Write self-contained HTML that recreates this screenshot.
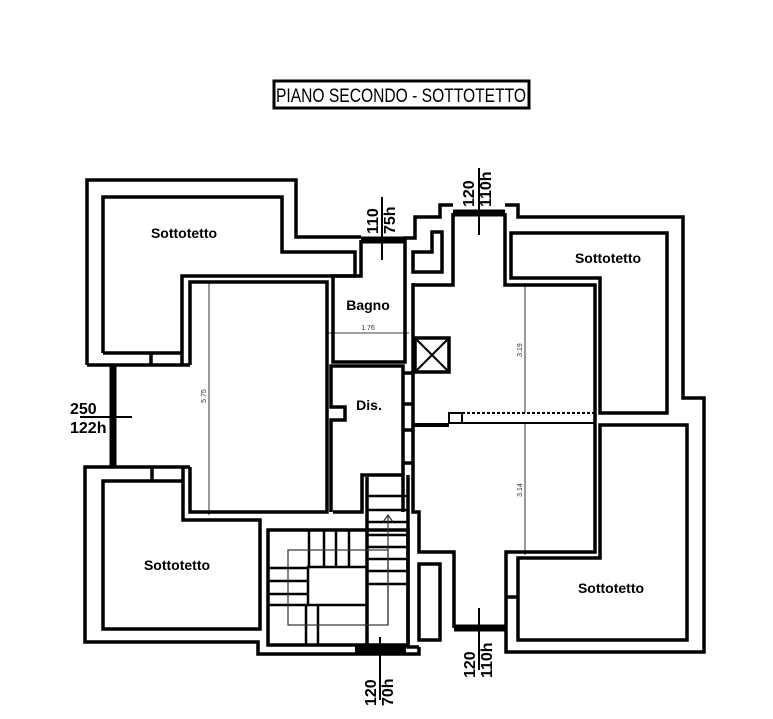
<!DOCTYPE html>
<html><head><meta charset="utf-8"><style>html,body{margin:0;padding:0;background:#fff}svg{display:block}</style></head>
<body>
<svg width="773" height="719" viewBox="0 0 773 719" xmlns="http://www.w3.org/2000/svg" font-family="Liberation Sans, sans-serif">
<rect x="274" y="81" width="255" height="27" fill="none" stroke="#000" stroke-width="3"/>
<text x="276" y="102" font-size="19" textLength="250" lengthAdjust="spacingAndGlyphs">PIANO SECONDO - SOTTOTETTO</text>
<g fill="none" stroke="#000" stroke-width="3.5" stroke-linejoin="miter">
<!-- top-left sottotetto -->
<polyline points="87,365 87,180 296,180 296,237 361,237"/>
<polyline points="103,353 103,197 282,197 282,252 355,252 355,276 182,276 182,365"/>
<polyline points="103,353 182,353"/>
<polyline points="87,365 190,365"/>
<line x1="151" y1="353" x2="151" y2="365"/>
<!-- big left room -->
<polyline points="190,365 190,282 327,282 327,512 190,512 190,467"/>
<!-- bottom-left sottotetto -->
<polyline points="190,467 85,467 85,642 258,642 258,654 419,654 419,647"/>
<polyline points="183,481 103,481 103,629 260,629 260,520 183,520 183,467"/>
<line x1="152" y1="467" x2="152" y2="481"/>
<!-- bagno -->
<polyline points="361,240 361,276 333,276 333,362 405,362 405,240"/>
<!-- dis -->
<polyline points="331,512 331,420 345,420 345,407 331,407 331,366 403,366 403,475"/>
<polyline points="333,512 362,512 362,475 403,475 403,512"/>
<!-- wall between dis and corridor -->
<polyline points="413,283 413,512 419,512 419,552 454,552 454,628"/>
<line x1="403" y1="373" x2="413" y2="373"/><line x1="403" y1="404" x2="413" y2="404"/><line x1="403" y1="430" x2="413" y2="430"/><line x1="403" y1="463" x2="413" y2="463"/>
<polyline points="408,475 408,647 419,647"/>
<!-- stairs -->
<rect x="268" y="530" width="140" height="115"/>
<line x1="367" y1="477" x2="367" y2="645"/>
<!-- corridor top -->
<polyline points="405,240 405,238 415,238 415,217 440,217 440,205 453,205"/>
<polyline points="505,205 518,205 518,217 683,217 683,398 704,398 704,652 506,652 506,628"/>
<polyline points="453,213 453,285 413,285"/>
<polyline points="505,213 505,285 595,285 595,552 506,552 506,628"/>
<polygon points="442,232 442,272 413,272 413,252 432,252 432,232"/>
<!-- right top sottotetto -->
<polygon points="511,233 667,233 667,413 600,413 600,278 511,278"/>
<!-- lift -->
<rect x="415" y="338" width="34" height="34"/>
<!-- BR -->
<polygon points="600,425 687,425 687,640 518,640 518,558 600,558"/>
<line x1="506" y1="597" x2="518" y2="597"/>
<rect x="419" y="564" width="21" height="76"/>
</g>
<g stroke="#000" stroke-width="2">
<line x1="415" y1="338" x2="449" y2="372"/><line x1="449" y1="338" x2="415" y2="372"/>
<rect x="449" y="413" width="13" height="10" fill="none"/>
<line x1="462" y1="413" x2="595" y2="413" stroke-dasharray="3,2"/>
<line x1="462" y1="423" x2="595" y2="423"/>
<line x1="413" y1="425" x2="449" y2="425" stroke-width="4"/>
</g>
<!-- stairs details -->
<g stroke="#000" stroke-width="2.5" fill="none">
<line x1="367" y1="496" x2="408" y2="496"/><line x1="367" y1="510" x2="408" y2="510"/>
<line x1="367" y1="522" x2="408" y2="522"/><line x1="367" y1="535" x2="408" y2="535"/>
<line x1="367" y1="547" x2="408" y2="547"/><line x1="367" y1="559" x2="408" y2="559"/>
<line x1="367" y1="571" x2="408" y2="571"/><line x1="367" y1="584" x2="408" y2="584"/>
<line x1="309" y1="530" x2="309" y2="567"/><line x1="324" y1="530" x2="324" y2="567"/>
<line x1="336" y1="530" x2="336" y2="567"/><line x1="349" y1="530" x2="349" y2="567"/>
<line x1="268" y1="568" x2="308" y2="568"/><line x1="268" y1="581" x2="308" y2="581"/>
<line x1="268" y1="594" x2="308" y2="594"/><line x1="268" y1="605" x2="308" y2="605"/>
<line x1="306" y1="605" x2="306" y2="645"/><line x1="318" y1="605" x2="318" y2="645"/>
<rect x="308" y="567" width="59" height="38"/>
</g>
<g stroke="#333" stroke-width="1.2" fill="none">
<rect x="288" y="550" width="100" height="75"/>
<line x1="388" y1="625" x2="388" y2="515"/>
<polyline points="383,522 388,515 393,522"/>
</g>
<!-- windows -->
<g stroke="#000">
<line x1="113" y1="365" x2="113" y2="467" stroke-width="7"/>
<line x1="80" y1="417" x2="132" y2="417" stroke-width="2"/>
<line x1="361" y1="240" x2="405" y2="240" stroke-width="7"/>
<line x1="382" y1="197" x2="382" y2="260" stroke-width="2"/>
<line x1="453" y1="213" x2="505" y2="213" stroke-width="7"/>
<line x1="479" y1="168" x2="479" y2="235" stroke-width="2"/>
<line x1="355" y1="650" x2="406" y2="650" stroke-width="7"/>
<line x1="380" y1="637" x2="380" y2="700" stroke-width="2"/>
<line x1="454" y1="628" x2="506" y2="628" stroke-width="7"/>
<line x1="479" y1="608" x2="479" y2="670" stroke-width="2"/>
</g>
<!-- dimension lines -->
<g stroke="#000" stroke-width="0.8">
<line x1="209" y1="281" x2="209" y2="515"/>
<line x1="328" y1="333" x2="409" y2="333"/>
<line x1="525" y1="283" x2="525" y2="413"/>
<line x1="525" y1="423" x2="525" y2="555"/>
</g>
<g font-size="7" fill="#333">
<text x="368" y="330" text-anchor="middle">1.76</text>
<text transform="translate(206,396) rotate(-90)" text-anchor="middle">5.75</text>
<text transform="translate(522,350) rotate(-90)" text-anchor="middle">3.19</text>
<text transform="translate(522,490) rotate(-90)" text-anchor="middle">3.14</text>
</g>
<g font-weight="bold" font-size="14" fill="#000" text-anchor="middle">
<text x="184" y="238">Sottotetto</text>
<text x="608" y="263">Sottotetto</text>
<text x="177" y="570">Sottotetto</text>
<text x="611" y="593">Sottotetto</text>
<text x="368" y="310">Bagno</text>
<text x="369" y="410">Dis.</text>
</g>
<g font-weight="bold" font-size="16" fill="#000">
<text x="70" y="414">250</text>
<text x="70" y="433">122h</text>
<text transform="translate(378,234) rotate(-90)">110</text>
<text transform="translate(395,234) rotate(-90)">75h</text>
<text transform="translate(474,207) rotate(-90)">120</text>
<text transform="translate(491,207) rotate(-90)">110h</text>
<text transform="translate(376,706) rotate(-90)">120</text>
<text transform="translate(393,706) rotate(-90)">70h</text>
<text transform="translate(475,678) rotate(-90)">120</text>
<text transform="translate(492,678) rotate(-90)">110h</text>
</g>
</svg>
</body></html>
